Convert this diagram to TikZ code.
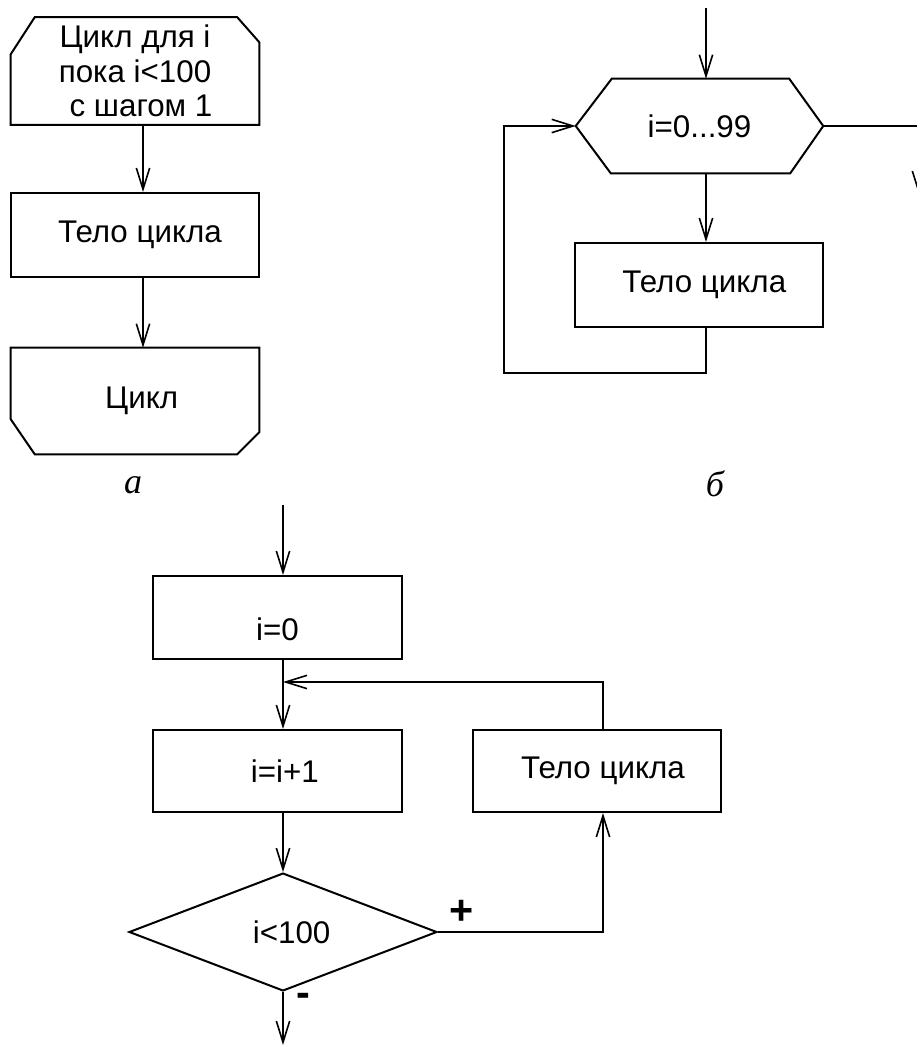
\documentclass[tikz,border=0pt]{standalone}
\usepackage{fontspec}
\setmainfont{Liberation Sans}
\newfontfamily\capfont{Liberation Serif}
\usetikzlibrary{arrows.meta,shapes.geometric,calc}
\begin{document}
\begin{tikzpicture}[x=0.75pt,y=-0.75pt,
  every node/.style={font=\fontsize{23.5}{26}\selectfont},
  blk/.style={draw, line width=1.5pt, inner sep=0pt},
  ghost/.style={inner sep=0pt},
  outline/.style={line width=1.5pt, line join=miter},
  flow/.style={line width=1.2pt, -{Straight Barb[length=16pt,width=10pt]}},
  caption/.style={font=\capfont\itshape\fontsize{27}{30}\selectfont},
  sign/.style={font=\bfseries\fontsize{31}{34}\selectfont}]

% canvas
\fill[white] (0,0) rectangle (917,1046);
\useasboundingbox (0,0) rectangle (917,1046);

% ---------- a: loop with start and end blocks ----------
\coordinate (colA) at (143,0);
\node[ghost, minimum width=248*0.75pt, minimum height=107*0.75pt, align=center]
  (start) at (135,71) {Цикл для i\\пока i<100\\\hspace{9pt}с шагом 1};
\draw[outline] ($(start.north west)+(24,0)$) -- ($(start.north east)+(-22,0)$)
  -- ($(start.north east)+(0,25)$) -- (start.south east) -- (start.south west)
  -- ($(start.north west)+(0,37)$) -- cycle;

\node[blk, minimum width=248*0.75pt, minimum height=84*0.75pt]
  (body1) at (135,235) {\hspace{7.5pt}Тело цикла};

\node[ghost, minimum width=248*0.75pt, minimum height=106*0.75pt]
  (end1) at (135,401) {\hspace{10pt}Цикл};
\draw[outline] (end1.north west) -- (end1.north east)
  -- ($(end1.south east)+(0,-22)$) -- ($(end1.south east)+(-22,0)$)
  -- ($(end1.south west)+(24,0)$) -- ($(end1.south west)+(0,-35)$) -- cycle;

\draw[flow] (start.south -| colA) -- (body1.north -| colA);
\draw[flow] (body1.south -| colA) -- (end1.north -| colA);

\node[caption] (capA) at (133,485) {а};

% ---------- b: loop block with counter ----------
\coordinate (colB) at (706,0);
\coordinate (topB) at (706,8);
\node[ghost, minimum width=247*0.75pt, minimum height=94*0.75pt]
  (hex) at (699.5,126) {i=0...99};
\draw[outline] ($(hex.north west)+(36,0)$) -- ($(hex.north east)+(-34,0)$)
  -- (hex.east) -- ($(hex.south east)+(-33,0)$) -- ($(hex.south west)+(35,0)$)
  -- (hex.west) -- cycle;

\node[blk, minimum width=248*0.75pt, minimum height=84*0.75pt]
  (body2) at (699,285) {\hspace{8pt}Тело цикла};

\coordinate (loopB) at (504,373);
\coordinate (exitB) at (919,195);

\draw[flow] (topB) -- (hex.north -| colB);
\draw[flow] (hex.south -| colB) -- (body2.north -| colB);
\draw[flow] (body2.south -| colB) |- (loopB) |- (hex.west);
\draw[flow] (hex.east) -| (exitB);

\node[caption] (capB) at (715,484) {б};

% ---------- c: loop built from a condition ----------
\coordinate (colC) at (283,0);
\coordinate (colT) at (603,0);
\coordinate (topC) at (283,505);
\coordinate (backC) at (283,682);
\coordinate (outC) at (283,1045);

\node[blk, minimum width=249*0.75pt, minimum height=83*0.75pt,
  label={[name=i0text, yshift=-9pt]center:i=0}] (i0) at (277.5,617.5) {};
\node[blk, minimum width=249*0.75pt, minimum height=82*0.75pt]
  (ii) at (277.5,771) {\hspace{11pt}i=i+1};
\node[blk, minimum width=248*0.75pt, minimum height=82*0.75pt]
  (body3) at (597,771) {\hspace{9pt}Тело цикла};
\node[blk, diamond, minimum width=308*0.75pt, minimum height=94*0.75pt]
  (dia) at (283,932) {\hspace{13pt}i<100};

\draw[flow] (topC) -- (i0.north -| colC);
\draw[flow] (i0.south -| colC) -- (ii.north -| colC);
\draw[flow] (body3.north -| colT) |- (backC);
\draw[flow] (ii.south -| colC) -- (dia.north);
\draw[flow] (dia.east) -| (body3.south -| colT);
\draw[flow] (dia.south) -- (outC);

\node[sign] (plus) at (462,912) {+};
\node[sign] (minus) at (303,1000) {-};
\end{tikzpicture}
\end{document}
